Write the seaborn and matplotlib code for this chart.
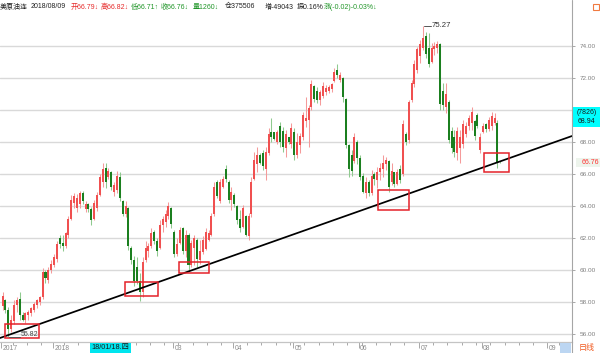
import numpy as np
import pandas as pd
import matplotlib
matplotlib.use("Agg")
import matplotlib.pyplot as plt
import seaborn as sns
from matplotlib.patches import Rectangle
from matplotlib.lines import Line2D

# ---------------- data (daily OHLC) ----------------
first_day = "2017-12-05"
last_day = "2018-08-09"
holidays = ["2017-12-25", "2018-01-01", "2018-03-30", "2018-09-03"]

dec = [(57.75,58.60,57.50,58.35),(58.10,58.20,57.30,57.50),(57.50,57.70,55.82,56.30),(56.30,57.20,56.10,56.90),
       (56.80,58.10,56.60,57.80),(57.80,58.30,57.40,58.10),(58.20,58.60,56.90,57.20),(57.20,57.40,56.80,56.90),
       (56.90,57.40,56.70,57.30),(57.20,57.50,56.90,57.40),(57.30,57.70,57.10,57.60),(57.50,58.00,57.40,57.90),
       (57.80,58.20,57.60,58.10),(58.00,58.40,57.80,58.30),(58.30,60.10,58.20,59.90),(59.90,60.00,59.20,59.50),
       (59.40,60.20,59.20,60.00),(60.00,60.60,59.80,60.40)]
jan = [(60.30,61.00,60.20,60.80),(60.70,61.80,60.50,61.60),(62.00,62.20,61.40,61.60),(61.70,62.20,61.20,61.50),
       (61.50,62.40,61.40,62.30),(62.20,63.40,62.00,63.20),(63.20,64.70,63.10,64.40),(64.20,64.80,63.90,64.60),
       (63.90,64.75,63.60,64.50),(64.10,64.95,63.90,64.80),(64.80,64.95,64.10,64.30),(63.80,64.30,63.65,64.15),
       (64.10,64.20,63.60,63.80),(63.80,63.95,62.80,63.10),(63.20,64.40,63.10,64.20),(63.90,64.90,63.70,64.70),
       (64.70,66.00,64.60,65.80),(65.50,66.67,65.20,66.30),(66.40,66.66,65.10,65.50),(65.80,66.35,65.70,66.20),
       (66.10,66.20,65.00,65.20),(64.90,65.50,64.60,65.30)]
feb = [(65.00,66.20,64.80,65.90),(65.80,66.10,64.30,64.50),(64.30,64.40,63.40,63.50),(63.50,64.30,63.30,64.00),
       (63.90,63.95,61.25,61.50),(61.40,61.50,60.40,60.60),(60.60,60.85,59.00,59.30),(60.20,60.80,59.10,59.30),
       (59.30,59.80,58.07,58.60),(58.60,60.80,58.30,60.50),(60.60,61.80,60.50,61.40),(61.20,61.70,60.80,61.50),
       (61.50,62.60,61.40,62.30),(62.40,62.50,61.60,61.80),(61.80,62.00,60.90,61.20),(61.40,63.10,61.30,62.80),
       (62.80,63.40,62.40,63.20),(63.00,63.75,62.70,63.50),(63.40,64.27,63.20,64.00),(63.90,63.96,62.60,62.90)]
mar = [(62.40,62.50,60.80,61.00),(61.00,62.00,60.90,61.60),(61.70,62.70,61.60,62.50),(62.60,62.70,61.00,61.20),
       (61.20,62.50,60.80,62.20),(62.20,62.30,60.00,60.30),(60.30,61.90,60.20,61.70),(61.40,62.20,60.30,62.00),
       (61.90,62.00,60.20,60.70),(60.60,61.90,60.40,61.20),(61.10,62.10,61.00,61.90),(61.30,62.60,61.25,62.40),
       (61.90,62.50,61.80,62.30),(62.20,63.54,62.10,63.40),(63.50,65.50,63.40,65.20),(65.50,65.60,64.50,64.60),
       (64.30,65.70,64.20,65.50),(65.20,65.90,65.10,65.70),(66.30,66.56,65.50,65.70),(65.50,65.60,64.20,64.40),
       (64.40,65.20,63.75,64.90)]
apr = [(64.70,64.80,63.96,64.10),(64.00,64.06,62.90,63.10),(63.20,63.75,62.40,62.60),(62.70,64.06,62.60,63.90),
       (63.40,63.44,62.10,62.20),(62.10,63.54,61.90,63.40),(63.50,65.80,63.30,65.50),(65.70,67.40,65.60,66.90),
       (66.60,67.70,66.15,67.20),(67.20,67.30,66.60,66.70),(67.30,67.50,66.25,66.50),(66.30,67.70,65.60,67.40),
       (67.30,68.85,67.20,68.50),(68.60,69.50,68.00,68.30),(68.60,68.65,68.10,68.20),(68.00,68.75,67.90,68.60),
       (69.00,69.27,67.70,68.00),(68.70,68.96,67.40,67.70),(67.60,68.75,67.08,68.50),(68.30,68.33,67.90,68.00),
       (67.90,69.17,67.60,68.90)]
may = [(68.60,68.85,66.90,67.20),(67.20,68.54,66.98,68.00),(67.80,68.54,67.29,68.40),(68.30,69.90,68.10,69.70),
       (69.30,70.83,68.96,69.50),(69.40,70.30,67.70,70.10),(70.20,71.875,70.00,71.60),(71.50,71.56,70.52,70.70),
       (71.20,71.46,70.42,70.60),(70.60,71.25,70.31,71.10),(70.90,71.77,70.73,71.50),(71.10,71.56,70.94,71.40),
       (71.20,71.56,71.04,71.45),(71.30,71.67,71.15,71.60),(71.80,72.60,71.77,72.40),(72.50,72.90,71.98,72.20),
       (71.90,72.40,71.77,72.20),(72.00,72.08,70.52,70.80),(70.70,70.73,67.60,67.80),(67.80,67.90,65.83,66.30),
       (67.20,67.50,65.90,66.20),(66.80,68.54,66.67,68.30),(68.00,68.10,66.60,67.00)]
jun = [(67.00,67.20,65.60,65.80),(65.90,66.04,64.79,64.90),(64.80,65.83,64.48,65.50),(65.50,65.60,64.60,64.80),
       (64.80,66.25,64.70,65.90),(66.00,66.15,65.30,65.70),(65.60,66.46,65.10,66.10),(66.10,66.67,65.60,66.40),
       (66.30,67.19,65.83,66.70),(66.60,67.08,66.25,66.90),(66.80,66.90,64.90,65.20),(65.50,66.67,65.30,66.20),
       (66.10,66.15,65.21,65.40),(65.40,66.30,65.30,66.10),(66.30,66.56,65.42,65.60),(66.00,69.375,65.90,69.10),
       (68.50,68.60,67.81,68.00),(68.10,70.625,67.92,70.50),(70.60,71.875,70.52,71.70),(71.60,73.125,71.46,72.90),
       (72.50,73.96,72.29,73.80)]
jul = [(73.40,74.375,72.92,74.10),(73.90,75.27,73.75,74.50),(74.60,74.90,73.23,73.50),(73.90,74.79,72.71,72.90),
       (73.00,74.17,72.92,73.90),(73.80,74.27,73.44,74.00),(73.90,74.30,73.54,74.10),(74.10,74.17,70.00,70.40),
       (71.20,71.67,70.00,70.30),(70.20,71.67,69.79,71.00),(70.50,70.60,67.92,68.10),(68.70,68.96,67.29,67.60),
       (68.30,68.75,67.08,67.40),(67.30,68.96,66.875,68.70),(67.60,68.75,66.67,68.30),(67.90,69.375,67.60,69.10),
       (68.50,69.27,68.33,69.00),(69.00,69.69,68.75,69.50),(69.20,70.21,68.75,69.90),(69.30,69.40,68.10,68.40),
       (69.70,69.79,68.85,69.00),(67.50,68.54,67.29,68.30)]
aug = [(68.60,69.17,68.54,69.00),(69.10,69.17,68.60,68.80),(68.80,69.58,68.70,69.40),(69.00,69.90,68.75,69.60),
       (69.20,69.79,69.06,69.50),(69.20,69.375,66.35,66.78),(66.79,66.82,66.71,66.76)]

y_ticks = [56, 58, 60, 62, 64, 66, 68, 70, 72, 74]
hidden_y_label = 70          # covered by the cyan value box in the reference
month_labels = ["2017", "2018", "", "03", "04", "05", "06", "07", "08", "09"]
low_label, high_label = 55.82, 75.27

# annotations drawn on the chart (support line and highlight boxes), in data units
trend_x = [-0.91, 199.1]
trend_y = [55.75, 68.375]
boxes = [(0.84, 12.7, 55.75, 56.62), (42.8, 54.3, 58.37, 59.25), (61.7, 72.2, 59.81, 60.5),
         (131.2, 142.1, 63.75, 65.0), (168.3, 177.1, 66.12, 67.31)]

header = [("美原油连", "#222222", 0), ("2018/08/09", "#222222", 31), ("开66.79↓", "#e62e2e", 71),
          ("高66.82↓", "#e62e2e", 100.5), ("低66.71↑", "#22962a", 131), ("收66.76↓", "#22962a", 161),
          ("量1260↓", "#22962a", 193), ("仓375506", "#222222", 225), ("增-49043", "#222222", 265),
          ("振0.16%", "#222222", 297), ("涨(-0.02)-0.03%↓", "#22962a", 324)]

# ---------------- build frame ----------------
rows = dec + jan + feb + mar + apr + may + jun + jul + aug
df = pd.DataFrame(rows, columns=["open", "high", "low", "close"])
days = pd.bdate_range(first_day, "2018-09-25")
days = days[~days.isin(pd.to_datetime(holidays))]
df["date"] = days[:len(df)]
df["i"] = np.arange(len(df))
up = df["close"] >= df["open"]

XLIM = (-0.909, 199.09)
cal = pd.DataFrame({"date": days, "i": np.arange(len(days))})
month_start = cal[cal["date"].dt.month != cal["date"].dt.month.shift()]
week_start = cal[cal["date"].dt.weekday < cal["date"].dt.weekday.shift().fillna(9)]
month_pos = [p for p in (month_start["i"] - 0.5).tolist() if p < XLIM[1]]
week_pos = [p for p in (week_start["i"] - 0.5).tolist() if p not in month_pos and p < XLIM[1]]

# ---------------- figure ----------------
sns.set_theme(style="white")
plt.rcParams["font.family"] = ["Liberation Sans", "Noto Sans CJK SC", "DejaVu Sans"]

W, H = 600, 353
fig = plt.figure(figsize=(W / 100, H / 100), dpi=100)
fig.patch.set_facecolor("white")
ax = fig.add_axes([0, 11 / H, 572 / W, 327 / H])
ax.set_facecolor("white")

RED_B, RED_W = "#f05050", "#f59a9a"
GRN_B, GRN_W = "#1b7f1f", "#8fca8f"

ax.vlines(df["i"], df["low"], df["high"], colors=np.where(up, RED_W, GRN_W), lw=0.75, zorder=3)
body_lo = np.minimum(df["open"], df["close"])
body_h = np.maximum((df["close"] - df["open"]).abs(), 0.04)
ax.bar(df["i"], body_h, bottom=body_lo, width=0.7, color=np.where(up, RED_B, GRN_B), lw=0, zorder=4)

sns.lineplot(x=trend_x, y=trend_y, ax=ax, color="black", lw=1.25, zorder=6, sort=False)

for x0, x1, y0, y1 in boxes:
    ax.add_patch(Rectangle((x0, y0), x1 - x0, y1 - y0, fill=False, ec="#e4222a", lw=1.1, zorder=7))

# extreme labels
i_low = int(df["low"].idxmin())
i_high = int(df["high"].idxmax())
ax.plot([i_low + 0.3, i_low + 4.0], [low_label, low_label], color="#555555", lw=0.7, zorder=8)
ax.text(i_low + 4.2, low_label + 0.18, f"{low_label:.2f}", fontsize=5.0, color="#444444",
        ha="left", va="center", zorder=8)
ax.plot([i_high + 0.4, i_high + 2.8], [high_label, high_label], color="#555555", lw=0.7, zorder=8)
ax.text(i_high + 3.0, high_label, f"{high_label:.2f}", fontsize=5.6, color="#333333",
        ha="left", va="center", zorder=8)

# axes
for s in ["top", "left", "right"]:
    ax.spines[s].set_visible(False)
ax.spines["bottom"].set_color("#c4c4c4")
ax.spines["bottom"].set_linewidth(0.9)

ax.set_yticks(y_ticks)
ax.set_yticklabels(["" if v == hidden_y_label else f"{v:.2f}" for v in y_ticks])
ax.tick_params(axis="y", left=False, labelleft=False, right=True, labelright=True, length=2,
               width=0.6, color="#9a9a9a", labelsize=4.6, labelcolor="#808080", pad=3.6)
ax.yaxis.grid(True, color="#d9d9d9", lw=1.0, zorder=0)
ax.xaxis.grid(False)

ax.set_xticks(month_pos)
ax.set_xticklabels([""] * len(month_pos))
ax.set_xticks(week_pos, minor=True)
ax.tick_params(axis="x", which="major", bottom=True, length=4, width=0.6, color="#9a9a9a", direction="out")
ax.tick_params(axis="x", which="minor", bottom=True, length=2.2, width=0.6, color="#9a9a9a", direction="out")
ax.set_xlim(*XLIM)
ax.set_ylim(55.5, 75.9375)
for p, lab in zip(month_pos, month_labels):
    if lab:
        ax.text(p + 0.55, 55.125, lab, fontsize=4.9, color="#8a8a8a", ha="left", va="center", clip_on=False)

# ---------------- figure decorations ----------------
def fx(px):
    return px / W

def fy(py):
    return 1 - py / H

fig.add_artist(Line2D([fx(572), fx(572)], [0, 1], color="#a6a6a6", lw=0.8))

for txt, col, xp in header:
    fig.text(fx(xp), fy(7), txt, fontsize=5.0, color=col, ha="left", va="center")
fig.add_artist(Rectangle((fx(592.5), fy(9.5)), fx(6), 6 / H, fill=False, ec="#f07a40", lw=0.8))

# current value label boxes on the right axis
fig.add_artist(Rectangle((fx(572.5), fy(127)), fx(27.5), 20 / H, fc="#00ffff", ec="none"))
fig.text(fx(586.5), fy(117), "(7826)\n68.94", fontsize=5.0, color="#1a1a1a", ha="center", va="center",
         linespacing=1.45)
fig.add_artist(Rectangle((fx(576), fy(167)), fx(24), 9 / H, fc="#edf4ec", ec="none"))
fig.text(fx(582), fy(162.5), f"{df['close'].iloc[-1]:.2f}", fontsize=5.0, color="#ff3030", ha="left", va="center")

# bottom bar: cursor date and period
fig.add_artist(Rectangle((fx(90), 0), fx(41), 10 / H, fc="#00e5ee", ec="none", zorder=5))
fig.text(fx(110.5), fy(348), "18/01/18.四", fontsize=5.2, color="#1a1a1a", ha="center", va="center", zorder=6)
fig.add_artist(Rectangle((fx(560), 0), fx(11), 10 / H, fc="#bcd6f2", ec="none"))
fig.text(fx(579), fy(348), "日线", fontsize=5.8, color="#f05a20", ha="left", va="center")

fig.savefig("out.png", dpi=100, facecolor="white")
